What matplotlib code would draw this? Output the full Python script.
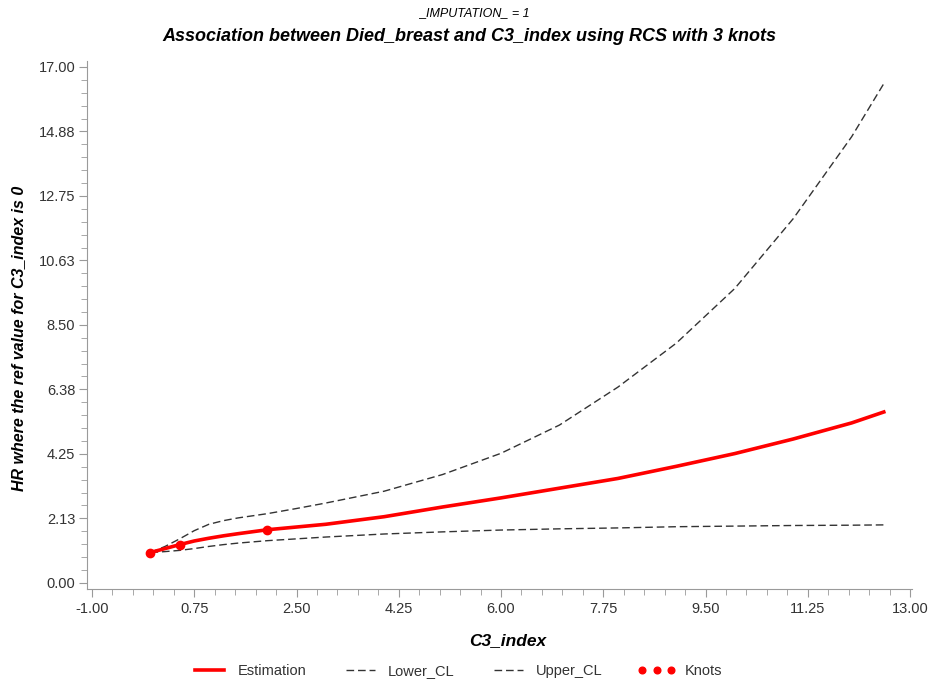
import matplotlib.pyplot as plt
from matplotlib.ticker import FixedLocator, AutoMinorLocator

# values
c3_index = [0, 0.25, 0.5, 0.75, 1, 1.25, 1.5, 2, 2.5, 3, 4, 5, 6, 7, 8, 9, 10,
            11, 12, 12.55]
estimation = [1.0, 1.13, 1.26, 1.38, 1.47, 1.55, 1.62, 1.75, 1.84, 1.93, 2.18,
              2.50, 2.80, 3.12, 3.44, 3.84, 4.26, 4.74, 5.27, 5.63]
lower_cl = [1.0, 1.03, 1.07, 1.13, 1.20, 1.26, 1.31, 1.39, 1.45, 1.51, 1.61,
            1.68, 1.74, 1.78, 1.81, 1.85, 1.87, 1.89, 1.90, 1.91]
upper_cl = [1.0, 1.20, 1.45, 1.72, 1.93, 2.05, 2.14, 2.28, 2.45, 2.63, 3.02,
            3.57, 4.27, 5.20, 6.45, 7.90, 9.70, 12.0, 14.7, 16.45]
knots_x = [0, 0.5, 2]
knots_y = [1.0, 1.26, 1.75]

x_ticks = [-1.00, 0.75, 2.50, 4.25, 6.00, 7.75, 9.50, 11.25, 13.00]
y_ticks = [0.00, 2.125, 4.25, 6.375, 8.50, 10.625, 12.75, 14.875, 17.00]
y_tick_labels = ["0.00", "2.13", "4.25", "6.38", "8.50", "10.63", "12.75", "14.88", "17.00"]

plt.rcParams['font.family'] = ['Liberation Sans', 'DejaVu Sans']

fig = plt.figure(figsize=(9.41, 6.84), dpi=100)
ax = fig.add_axes([0.0925, 0.139, 0.8765, 0.772])

ax.plot(c3_index, lower_cl, color='#333333', lw=1.0, dashes=(5.5, 2.8), label='Lower_CL')
ax.plot(c3_index, upper_cl, color='#333333', lw=1.0, dashes=(5.5, 2.8), label='Upper_CL')
ax.plot(c3_index, estimation, color='#ff0000', lw=2.6, label='Estimation', zorder=3)
ax.plot(knots_x, knots_y, 'o', color='#ff0000', ms=6, label='Knots', zorder=4)

ax.set_xlim(-1.085, 13.03)
ax.set_ylim(-0.2, 17.2)
ax.xaxis.set_major_locator(FixedLocator(x_ticks))
ax.set_xticklabels([f"{v:.2f}" for v in x_ticks])
ax.yaxis.set_major_locator(FixedLocator(y_ticks))
ax.set_yticklabels(y_tick_labels)
ax.xaxis.set_minor_locator(AutoMinorLocator(5))
ax.yaxis.set_minor_locator(AutoMinorLocator(5))

for side in ['top', 'right']:
    ax.spines[side].set_visible(False)
for side in ['left', 'bottom']:
    ax.spines[side].set_color('#9a9a9a')
ax.tick_params(which='major', length=6, color='#9a9a9a', labelsize=10.5,
               labelcolor='#333333')
ax.tick_params(axis='y', which='major', pad=2.5)
ax.tick_params(which='minor', length=4, color='#9a9a9a')

fig.text(0.54, 0.064, 'C3_index', ha='center', va='center', fontsize=12.5,
         fontweight='bold', style='italic')
fig.text(0.02, 0.506, 'HR where the ref value for C3_index is 0', rotation=90,
         ha='center', va='center', fontsize=11.5, fontweight='bold', style='italic')

fig.text(0.505, 0.981, '_IMPUTATION_ = 1', ha='center', va='center',
         fontsize=9, style='italic')
fig.text(0.499, 0.946, 'Association between Died_breast and C3_index using RCS with 3 knots',
         ha='center', va='center', fontsize=13, fontweight='bold', style='italic')

handles, labels = ax.get_legend_handles_labels()
order = [2, 0, 1, 3]
fig.legend([handles[i] for i in order], [labels[i] for i in order],
           loc='center', bbox_to_anchor=(0.485, 0.019), ncol=4, frameon=False,
           fontsize=10.5, numpoints=3, handlelength=2.6, columnspacing=2.4,
           handletextpad=0.6, labelcolor='#333333', markerscale=0.8)

fig.savefig('out.png', dpi=100)
